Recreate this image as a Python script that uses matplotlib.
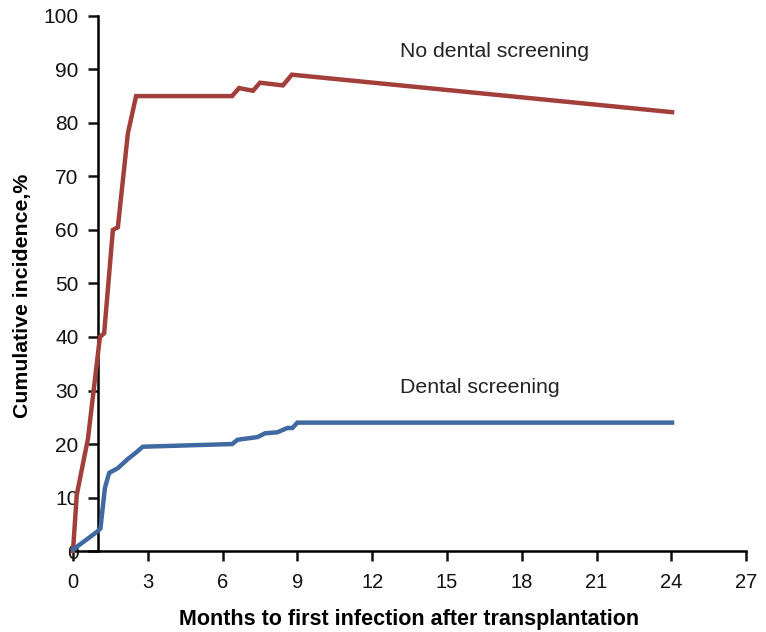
import matplotlib.pyplot as plt

plt.rcParams['font.family'] = ['Liberation Sans', 'DejaVu Sans']

# No dental screening (red)
no_screen_x = [0, 0.15, 0.6, 1.08, 1.25, 1.6, 1.8, 2.2, 2.53, 6.38, 6.66, 7.22, 7.5, 8.42, 8.78, 24.03]
no_screen_y = [0, 10.5, 21, 40, 40.7, 60, 60.5, 78, 85, 85, 86.5, 86, 87.5, 87, 89, 82]

# Dental screening (blue)
screen_x = [0, 0.15, 0.5, 0.96, 1.1, 1.28, 1.45, 1.8, 2.2, 2.5, 2.8, 6.38, 6.6, 7.4, 7.7, 8.2, 8.6, 8.8, 9.0, 24.03]
screen_y = [0.3, 0.8, 2, 3.6, 4.2, 11.8, 14.6, 15.5, 17.2, 18.3, 19.5, 20, 20.8, 21.3, 22, 22.2, 23, 23, 24, 24]

x_ticks = [0, 3, 6, 9, 12, 15, 18, 21, 24, 27]
y_ticks = [0, 10, 20, 30, 40, 50, 60, 70, 80, 90, 100]

fig = plt.figure(figsize=(7.66, 6.32), dpi=100)
ax = fig.add_axes([0.0953, 0.128, 0.8787, 0.847])

ax.plot(no_screen_x, no_screen_y, color='#A23F3B', lw=3.2, solid_joinstyle='miter', clip_on=False, zorder=3)
ax.plot(screen_x, screen_y, color='#3F69A0', lw=3.2, solid_joinstyle='miter', clip_on=False, zorder=3)

ax.set_xlim(0, 27)
ax.set_ylim(0, 100)
ax.set_xticks(x_ticks)
ax.set_yticks(y_ticks)

ax.spines['top'].set_visible(False)
ax.spines['right'].set_visible(False)
ax.spines['left'].set_position(('data', 1))
ax.spines['left'].set_linewidth(1.8)
ax.spines['bottom'].set_linewidth(1.8)
ax.tick_params(axis='x', direction='out', length=7, width=1.8, labelsize=14.5, pad=9, colors='#111111')
ax.tick_params(axis='y', direction='out', length=7, width=1.8, labelsize=15, pad=7, colors='#111111')
for lab in ax.get_xticklabels():
    lab.set_family(['Liberation Sans Narrow', 'Liberation Sans'])

ax.text(16.9, 93.3, 'No dental screening', fontsize=15.3, ha='center', va='center', color='#222222')
ax.text(16.3, 30.5, 'Dental screening', fontsize=15.3, ha='center', va='center', color='#222222')

ax.set_xlabel('Months to first infection after transplantation', fontsize=15.5, fontweight='bold', labelpad=12)
fig.text(0.029, 0.532, 'Cumulative incidence,%', rotation=90, fontsize=15.3, fontweight='bold',
         ha='center', va='center')

fig.savefig('out.png', dpi=100)
